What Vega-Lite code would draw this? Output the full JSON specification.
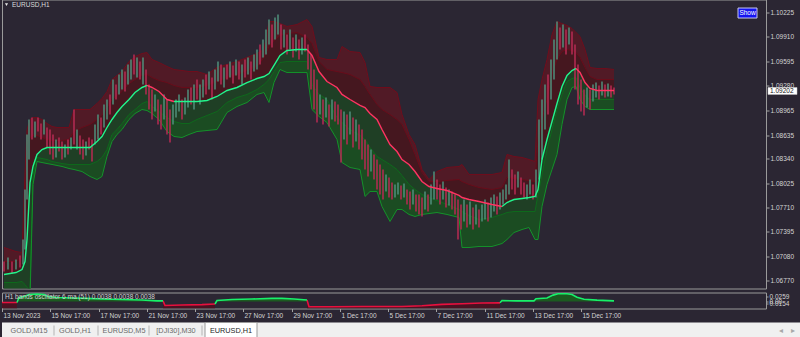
{
"$schema":"https://vega.github.io/schema/vega-lite/v6.json",
"background":"#2b2633",
"padding":{"left":0,"top":-1.5,"right":0,"bottom":0},
"spacing":2,
"config":{"view":{"stroke":"#9a9a9a","strokeWidth":1},"axis":{"labelFont":"Liberation Sans","labelFontSize":6.5,"labelColor":"#d4d4d4","tickColor":"#a0a0a0","domain":false,"grid":false,"labelOverlap":false,"labelFlush":false},"text":{"font":"Liberation Sans"}},
"datasets":{
"bands":[
{"b":2,"m":1.06846,"ui":1.07013,"uo":1.07194,"li":1.06742,"lo":1.06575,"d":"u","s":1},
{"b":8,"m":1.06858,"ui":1.07013,"uo":1.07168,"li":1.06742,"lo":1.06575,"d":"u","s":1},
{"b":14,"m":1.06871,"ui":1.07013,"uo":1.07142,"li":1.06742,"lo":1.06575,"d":"u","s":1},
{"b":20,"m":1.06910,"ui":1.07065,"uo":1.07129,"li":1.06755,"lo":1.06575,"d":"u","s":1},
{"b":23,"m":1.07013,"ui":1.07813,"uo":1.08161,"li":1.06717,"lo":1.06549,"d":"u","s":1},
{"b":25,"m":1.07297,"ui":1.08523,"uo":1.08716,"li":1.06678,"lo":1.06523,"d":"u","s":1},
{"b":28,"m":1.08032,"ui":1.08613,"uo":1.08845,"li":1.06652,"lo":1.06523,"d":"u","s":1},
{"b":31,"m":1.08239,"ui":1.08639,"uo":1.08871,"li":1.08136,"lo":1.08007,"d":"u","s":1},
{"b":35,"m":1.08394,"ui":1.08639,"uo":1.08871,"li":1.08355,"lo":1.08303,"d":"u","s":1},
{"b":40,"m":1.08458,"ui":1.08613,"uo":1.08845,"li":1.08342,"lo":1.08290,"d":"u","s":1},
{"b":45,"m":1.08484,"ui":1.08587,"uo":1.08793,"li":1.08329,"lo":1.08277,"d":"u","s":1},
{"b":50,"m":1.08484,"ui":1.08574,"uo":1.08755,"li":1.08303,"lo":1.08265,"d":"u","s":1},
{"b":55,"m":1.08484,"ui":1.08574,"uo":1.08742,"li":1.08290,"lo":1.08252,"d":"u","s":1},
{"b":60,"m":1.08484,"ui":1.08574,"uo":1.08742,"li":1.08277,"lo":1.08239,"d":"u","s":1},
{"b":67,"m":1.08484,"ui":1.08587,"uo":1.08742,"li":1.08265,"lo":1.08213,"d":"u","s":1},
{"b":72,"m":1.08484,"ui":1.08690,"uo":1.08974,"li":1.08265,"lo":1.08200,"d":"u","s":1},
{"b":80,"m":1.08484,"ui":1.08742,"uo":1.08974,"li":1.08265,"lo":1.08174,"d":"u","s":1},
{"b":88,"m":1.08484,"ui":1.08781,"uo":1.08974,"li":1.08265,"lo":1.08110,"d":"u","s":1},
{"b":95,"m":1.08561,"ui":1.08845,"uo":1.09051,"li":1.08303,"lo":1.08071,"d":"u","s":1},
{"b":100,"m":1.08626,"ui":1.08897,"uo":1.09116,"li":1.08355,"lo":1.08110,"d":"u","s":1},
{"b":105,"m":1.08742,"ui":1.09000,"uo":1.09206,"li":1.08458,"lo":1.08368,"d":"u","s":1},
{"b":110,"m":1.08845,"ui":1.09103,"uo":1.09361,"li":1.08652,"lo":1.08561,"d":"u","s":1},
{"b":115,"m":1.08935,"ui":1.09155,"uo":1.09413,"li":1.08716,"lo":1.08652,"d":"u","s":1},
{"b":120,"m":1.09013,"ui":1.09206,"uo":1.09464,"li":1.08793,"lo":1.08716,"d":"u","s":1},
{"b":127,"m":1.09103,"ui":1.09309,"uo":1.09593,"li":1.08910,"lo":1.08845,"d":"u","s":1},
{"b":133,"m":1.09193,"ui":1.09361,"uo":1.09658,"li":1.08974,"lo":1.08922,"d":"u","s":1},
{"b":140,"m":1.09258,"ui":1.09413,"uo":1.09696,"li":1.09051,"lo":1.08974,"d":"u","s":1},
{"b":145,"m":1.09284,"ui":1.09426,"uo":1.09709,"li":1.09077,"lo":1.08961,"d":"u","s":1},
{"b":145,"m":1.09284,"ui":1.09426,"uo":1.09709,"li":1.09077,"lo":1.08961,"d":"d","s":2},
{"b":150,"m":1.09258,"ui":1.09387,"uo":1.09619,"li":1.09013,"lo":1.08922,"d":"d","s":2},
{"b":157,"m":1.09206,"ui":1.09348,"uo":1.09580,"li":1.08948,"lo":1.08845,"d":"d","s":2},
{"b":165,"m":1.09103,"ui":1.09322,"uo":1.09529,"li":1.08871,"lo":1.08690,"d":"d","s":2},
{"b":172,"m":1.09077,"ui":1.09284,"uo":1.09490,"li":1.08819,"lo":1.08626,"d":"d","s":2},
{"b":172,"m":1.09077,"ui":1.09284,"uo":1.09490,"li":1.08819,"lo":1.08626,"d":"u","s":3},
{"b":180,"m":1.09077,"ui":1.09258,"uo":1.09477,"li":1.08793,"lo":1.08613,"d":"u","s":3},
{"b":187,"m":1.09077,"ui":1.09258,"uo":1.09464,"li":1.08793,"lo":1.08652,"d":"u","s":3},
{"b":195,"m":1.09077,"ui":1.09258,"uo":1.09464,"li":1.08845,"lo":1.08690,"d":"u","s":3},
{"b":205,"m":1.09090,"ui":1.09284,"uo":1.09426,"li":1.08897,"lo":1.08703,"d":"u","s":3},
{"b":215,"m":1.09142,"ui":1.09335,"uo":1.09516,"li":1.08948,"lo":1.08716,"d":"u","s":3},
{"b":225,"m":1.09219,"ui":1.09387,"uo":1.09554,"li":1.09064,"lo":1.08935,"d":"u","s":3},
{"b":235,"m":1.09258,"ui":1.09426,"uo":1.09593,"li":1.09129,"lo":1.09013,"d":"u","s":3},
{"b":245,"m":1.09322,"ui":1.09477,"uo":1.09645,"li":1.09168,"lo":1.09064,"d":"u","s":3},
{"b":255,"m":1.09374,"ui":1.09529,"uo":1.09696,"li":1.09232,"lo":1.09168,"d":"u","s":3},
{"b":262,"m":1.09400,"ui":1.09645,"uo":1.09748,"li":1.09297,"lo":1.09193,"d":"u","s":3},
{"b":267,"m":1.09438,"ui":1.09787,"uo":1.10109,"li":1.09361,"lo":1.09064,"d":"u","s":3},
{"b":272,"m":1.09542,"ui":1.09864,"uo":1.10109,"li":1.09464,"lo":1.09322,"d":"u","s":3},
{"b":278,"m":1.09671,"ui":1.09929,"uo":1.10083,"li":1.09580,"lo":1.09490,"d":"u","s":3},
{"b":285,"m":1.09735,"ui":1.09954,"uo":1.10045,"li":1.09593,"lo":1.09451,"d":"u","s":3},
{"b":295,"m":1.09748,"ui":1.09967,"uo":1.10070,"li":1.09593,"lo":1.09451,"d":"u","s":3},
{"b":305,"m":1.09748,"ui":1.09903,"uo":1.10135,"li":1.09593,"lo":1.09451,"d":"u","s":3},
{"b":305,"m":1.09748,"ui":1.09903,"uo":1.10135,"li":1.09593,"lo":1.09451,"d":"d","s":4},
{"b":310,"m":1.09671,"ui":1.09825,"uo":1.10045,"li":1.09297,"lo":1.08974,"d":"d","s":4},
{"b":317,"m":1.09464,"ui":1.09593,"uo":1.09645,"li":1.09168,"lo":1.08884,"d":"d","s":4},
{"b":325,"m":1.09335,"ui":1.09490,"uo":1.09619,"li":1.09103,"lo":1.08806,"d":"d","s":4},
{"b":335,"m":1.09258,"ui":1.09464,"uo":1.09619,"li":1.08871,"lo":1.08587,"d":"d","s":4},
{"b":340,"m":1.09168,"ui":1.09451,"uo":1.09787,"li":1.08806,"lo":1.08290,"d":"d","s":4},
{"b":348,"m":1.09103,"ui":1.09426,"uo":1.09722,"li":1.08716,"lo":1.08226,"d":"d","s":4},
{"b":358,"m":1.09026,"ui":1.09361,"uo":1.09709,"li":1.08639,"lo":1.08200,"d":"d","s":4},
{"b":363,"m":1.09000,"ui":1.09271,"uo":1.09580,"li":1.08587,"lo":1.07852,"d":"d","s":4},
{"b":368,"m":1.08922,"ui":1.09168,"uo":1.09271,"li":1.08484,"lo":1.07916,"d":"d","s":4},
{"b":375,"m":1.08845,"ui":1.09039,"uo":1.09258,"li":1.08368,"lo":1.07916,"d":"d","s":4},
{"b":380,"m":1.08716,"ui":1.08974,"uo":1.09258,"li":1.08329,"lo":1.07723,"d":"d","s":4},
{"b":388,"m":1.08523,"ui":1.08910,"uo":1.09258,"li":1.08265,"lo":1.07529,"d":"d","s":4},
{"b":395,"m":1.08432,"ui":1.08845,"uo":1.09193,"li":1.08200,"lo":1.07684,"d":"d","s":4},
{"b":400,"m":1.08329,"ui":1.08781,"uo":1.08910,"li":1.08123,"lo":1.07684,"d":"d","s":4},
{"b":407,"m":1.08265,"ui":1.08587,"uo":1.08652,"li":1.08007,"lo":1.07620,"d":"d","s":4},
{"b":413,"m":1.08174,"ui":1.08394,"uo":1.08523,"li":1.07942,"lo":1.07594,"d":"d","s":4},
{"b":420,"m":1.08045,"ui":1.08161,"uo":1.08200,"li":1.07878,"lo":1.07620,"d":"d","s":4},
{"b":427,"m":1.07981,"ui":1.08045,"uo":1.08071,"li":1.07839,"lo":1.07632,"d":"d","s":4},
{"b":435,"m":1.07955,"ui":1.08045,"uo":1.08174,"li":1.07800,"lo":1.07645,"d":"d","s":4},
{"b":445,"m":1.07929,"ui":1.08058,"uo":1.08226,"li":1.07749,"lo":1.07620,"d":"d","s":4},
{"b":457,"m":1.07865,"ui":1.08071,"uo":1.08239,"li":1.07684,"lo":1.07581,"d":"d","s":4},
{"b":460,"m":1.07839,"ui":1.08045,"uo":1.08265,"li":1.07658,"lo":1.07194,"d":"d","s":4},
{"b":467,"m":1.07813,"ui":1.08007,"uo":1.08136,"li":1.07607,"lo":1.07194,"d":"d","s":4},
{"b":477,"m":1.07787,"ui":1.07968,"uo":1.08136,"li":1.07555,"lo":1.07207,"d":"d","s":4},
{"b":490,"m":1.07749,"ui":1.07942,"uo":1.08136,"li":1.07581,"lo":1.07207,"d":"d","s":4},
{"b":500,"m":1.07723,"ui":1.07968,"uo":1.08161,"li":1.07620,"lo":1.07245,"d":"d","s":4},
{"b":500,"m":1.07723,"ui":1.07968,"uo":1.08161,"li":1.07620,"lo":1.07245,"d":"u","s":5},
{"b":505,"m":1.07774,"ui":1.08097,"uo":1.08394,"li":1.07645,"lo":1.07297,"d":"u","s":5},
{"b":512,"m":1.07813,"ui":1.08084,"uo":1.08368,"li":1.07658,"lo":1.07387,"d":"u","s":5},
{"b":520,"m":1.07826,"ui":1.08071,"uo":1.08355,"li":1.07658,"lo":1.07426,"d":"u","s":5},
{"b":527,"m":1.07839,"ui":1.08058,"uo":1.08329,"li":1.07658,"lo":1.07452,"d":"u","s":5},
{"b":533,"m":1.07852,"ui":1.08045,"uo":1.08303,"li":1.07658,"lo":1.07297,"d":"u","s":5},
{"b":536,"m":1.07942,"ui":1.08587,"uo":1.09103,"li":1.07878,"lo":1.07297,"d":"u","s":5},
{"b":540,"m":1.08329,"ui":1.08845,"uo":1.09361,"li":1.08136,"lo":1.07723,"d":"u","s":5},
{"b":545,"m":1.08587,"ui":1.09103,"uo":1.09619,"li":1.08458,"lo":1.08007,"d":"u","s":5},
{"b":550,"m":1.08819,"ui":1.09426,"uo":1.09941,"li":1.08716,"lo":1.08200,"d":"u","s":5},
{"b":555,"m":1.09051,"ui":1.09619,"uo":1.10109,"li":1.08974,"lo":1.08394,"d":"u","s":5},
{"b":560,"m":1.09271,"ui":1.09722,"uo":1.10083,"li":1.09168,"lo":1.08781,"d":"u","s":5},
{"b":565,"m":1.09413,"ui":1.09748,"uo":1.10058,"li":1.09335,"lo":1.09103,"d":"u","s":5},
{"b":570,"m":1.09477,"ui":1.09735,"uo":1.10019,"li":1.09374,"lo":1.09258,"d":"u","s":5},
{"b":574,"m":1.09503,"ui":1.09709,"uo":1.09967,"li":1.09387,"lo":1.09271,"d":"u","s":5},
{"b":574,"m":1.09503,"ui":1.09709,"uo":1.09967,"li":1.09387,"lo":1.09271,"d":"d","s":6},
{"b":578,"m":1.09451,"ui":1.09645,"uo":1.09916,"li":1.09258,"lo":1.09103,"d":"d","s":6},
{"b":583,"m":1.09322,"ui":1.09516,"uo":1.09748,"li":1.09155,"lo":1.09013,"d":"d","s":6},
{"b":588,"m":1.09245,"ui":1.09400,"uo":1.09516,"li":1.09103,"lo":1.08974,"d":"d","s":6},
{"b":595,"m":1.09219,"ui":1.09361,"uo":1.09503,"li":1.09103,"lo":1.08974,"d":"d","s":6},
{"b":603,"m":1.09219,"ui":1.09361,"uo":1.09503,"li":1.09103,"lo":1.08974,"d":"d","s":6},
{"b":612,"m":1.09219,"ui":1.09361,"uo":1.09490,"li":1.09103,"lo":1.08974,"d":"d","s":6}
],
"candles":[
{"b":2,"h":1.07013,"l":1.06884,"d":"d"},{"b":6,"h":1.07065,"l":1.06910,"d":"u"},{"b":10,"h":1.07013,"l":1.06858,"d":"d"},{"b":14,"h":1.07039,"l":1.06910,"d":"u"},{"b":18,"h":1.07091,"l":1.06936,"d":"d"},{"b":21,"h":1.07297,"l":1.06975,"d":"u"},{"b":23,"h":1.07942,"l":1.07168,"d":"u"},{"b":25,"h":1.08652,"l":1.07813,"d":"u"},{"b":27,"h":1.08845,"l":1.08329,"d":"u"},{"b":30,"h":1.08871,"l":1.08587,"d":"d"},
{"b":33,"h":1.08819,"l":1.08613,"d":"u"},{"b":36,"h":1.08871,"l":1.08690,"d":"d"},{"b":39,"h":1.08793,"l":1.08587,"d":"d"},{"b":42,"h":1.08845,"l":1.08652,"d":"u"},{"b":45,"h":1.08742,"l":1.08484,"d":"d"},{"b":48,"h":1.08716,"l":1.08394,"d":"d"},{"b":51,"h":1.08652,"l":1.08329,"d":"d"},{"b":54,"h":1.08587,"l":1.08355,"d":"u"},{"b":57,"h":1.08613,"l":1.08432,"d":"d"},{"b":60,"h":1.08561,"l":1.08329,"d":"d"},
{"b":63,"h":1.08523,"l":1.08355,"d":"u"},{"b":66,"h":1.08587,"l":1.08394,"d":"d"},{"b":69,"h":1.08613,"l":1.08458,"d":"u"},{"b":72,"h":1.08974,"l":1.08523,"d":"d"},{"b":75,"h":1.08716,"l":1.08458,"d":"u"},{"b":78,"h":1.08639,"l":1.08394,"d":"d"},{"b":81,"h":1.08587,"l":1.08329,"d":"d"},{"b":84,"h":1.08561,"l":1.08381,"d":"u"},{"b":87,"h":1.08613,"l":1.08458,"d":"d"},{"b":90,"h":1.08587,"l":1.08303,"d":"d"},
{"b":93,"h":1.08781,"l":1.08523,"d":"u"},{"b":96,"h":1.08910,"l":1.08587,"d":"u"},{"b":99,"h":1.08871,"l":1.08652,"d":"d"},{"b":102,"h":1.09039,"l":1.08742,"d":"u"},{"b":105,"h":1.09103,"l":1.08845,"d":"u"},{"b":108,"h":1.09168,"l":1.08910,"d":"d"},{"b":111,"h":1.09361,"l":1.09039,"d":"u"},{"b":114,"h":1.09297,"l":1.09103,"d":"d"},{"b":117,"h":1.09426,"l":1.09168,"d":"u"},{"b":120,"h":1.09490,"l":1.09232,"d":"u"},
{"b":123,"h":1.09464,"l":1.09206,"d":"d"},{"b":126,"h":1.09554,"l":1.09297,"d":"u"},{"b":129,"h":1.09619,"l":1.09361,"d":"u"},{"b":132,"h":1.09683,"l":1.09426,"d":"d"},{"b":135,"h":1.09645,"l":1.09387,"d":"u"},{"b":138,"h":1.09593,"l":1.09361,"d":"d"},{"b":141,"h":1.09645,"l":1.09297,"d":"u"},{"b":144,"h":1.09490,"l":1.09168,"d":"d"},{"b":147,"h":1.09297,"l":1.08974,"d":"d"},{"b":150,"h":1.09232,"l":1.08845,"d":"d"},
{"b":153,"h":1.09168,"l":1.08948,"d":"u"},{"b":156,"h":1.09103,"l":1.08781,"d":"d"},{"b":159,"h":1.09039,"l":1.08716,"d":"d"},{"b":162,"h":1.09168,"l":1.08845,"d":"u"},{"b":165,"h":1.09103,"l":1.08652,"d":"d"},{"b":168,"h":1.08974,"l":1.08548,"d":"d"},{"b":171,"h":1.09039,"l":1.08781,"d":"u"},{"b":174,"h":1.09103,"l":1.08871,"d":"u"},{"b":177,"h":1.09168,"l":1.08948,"d":"u"},{"b":180,"h":1.09103,"l":1.08845,"d":"d"},
{"b":183,"h":1.09129,"l":1.08910,"d":"u"},{"b":186,"h":1.09232,"l":1.09000,"d":"u"},{"b":189,"h":1.09258,"l":1.09039,"d":"d"},{"b":192,"h":1.09297,"l":1.08974,"d":"u"},{"b":195,"h":1.09361,"l":1.09103,"d":"d"},{"b":198,"h":1.09297,"l":1.09039,"d":"u"},{"b":201,"h":1.09361,"l":1.09129,"d":"u"},{"b":204,"h":1.09426,"l":1.09168,"d":"d"},{"b":207,"h":1.09464,"l":1.09232,"d":"u"},{"b":210,"h":1.09387,"l":1.09103,"d":"d"},
{"b":213,"h":1.09490,"l":1.09232,"d":"u"},{"b":216,"h":1.09593,"l":1.09335,"d":"u"},{"b":219,"h":1.09554,"l":1.09297,"d":"d"},{"b":222,"h":1.09516,"l":1.09258,"d":"u"},{"b":225,"h":1.09554,"l":1.09361,"d":"d"},{"b":228,"h":1.09593,"l":1.09387,"d":"u"},{"b":231,"h":1.09542,"l":1.09309,"d":"d"},{"b":234,"h":1.09619,"l":1.09413,"d":"u"},{"b":237,"h":1.09593,"l":1.09361,"d":"d"},{"b":240,"h":1.09554,"l":1.09297,"d":"u"},
{"b":243,"h":1.09619,"l":1.09387,"d":"d"},{"b":246,"h":1.09645,"l":1.09426,"d":"u"},{"b":249,"h":1.09593,"l":1.09361,"d":"d"},{"b":252,"h":1.09683,"l":1.09464,"d":"u"},{"b":255,"h":1.09748,"l":1.09490,"d":"u"},{"b":258,"h":1.09812,"l":1.09554,"d":"d"},{"b":261,"h":1.09877,"l":1.09645,"d":"u"},{"b":264,"h":1.10006,"l":1.09683,"d":"u"},{"b":267,"h":1.10135,"l":1.09812,"d":"u"},{"b":270,"h":1.10070,"l":1.09774,"d":"d"},
{"b":273,"h":1.10161,"l":1.09877,"d":"u"},{"b":276,"h":1.10200,"l":1.09941,"d":"u"},{"b":279,"h":1.10070,"l":1.09748,"d":"d"},{"b":282,"h":1.10006,"l":1.09774,"d":"u"},{"b":285,"h":1.09941,"l":1.09683,"d":"d"},{"b":288,"h":1.10006,"l":1.09748,"d":"u"},{"b":291,"h":1.09903,"l":1.09645,"d":"d"},{"b":294,"h":1.09941,"l":1.09722,"d":"u"},{"b":297,"h":1.09877,"l":1.09619,"d":"d"},{"b":300,"h":1.09903,"l":1.09683,"d":"u"},
{"b":303,"h":1.09941,"l":1.09722,"d":"d"},{"b":306,"h":1.09812,"l":1.09490,"d":"d"},{"b":309,"h":1.09683,"l":1.09232,"d":"d"},{"b":312,"h":1.09490,"l":1.08974,"d":"d"},{"b":315,"h":1.09361,"l":1.08806,"d":"d"},{"b":318,"h":1.09168,"l":1.08910,"d":"u"},{"b":321,"h":1.09103,"l":1.08781,"d":"d"},{"b":324,"h":1.09129,"l":1.08871,"d":"u"},{"b":327,"h":1.09039,"l":1.08755,"d":"d"},{"b":330,"h":1.09103,"l":1.08845,"d":"u"},
{"b":333,"h":1.09077,"l":1.08819,"d":"d"},{"b":336,"h":1.09039,"l":1.08781,"d":"d"},{"b":339,"h":1.08974,"l":1.08290,"d":"d"},{"b":342,"h":1.08948,"l":1.08587,"d":"u"},{"b":345,"h":1.08910,"l":1.08523,"d":"d"},{"b":348,"h":1.08948,"l":1.08652,"d":"u"},{"b":351,"h":1.08871,"l":1.08484,"d":"d"},{"b":354,"h":1.08845,"l":1.08561,"d":"u"},{"b":357,"h":1.08781,"l":1.08458,"d":"d"},{"b":360,"h":1.08716,"l":1.08329,"d":"d"},
{"b":363,"h":1.08587,"l":1.08200,"d":"d"},{"b":366,"h":1.08523,"l":1.08110,"d":"d"},{"b":369,"h":1.08458,"l":1.08174,"d":"u"},{"b":372,"h":1.08394,"l":1.08071,"d":"d"},{"b":375,"h":1.08329,"l":1.07942,"d":"d"},{"b":378,"h":1.08265,"l":1.07878,"d":"d"},{"b":381,"h":1.08200,"l":1.07813,"d":"d"},{"b":384,"h":1.08136,"l":1.07916,"d":"u"},{"b":387,"h":1.08097,"l":1.07839,"d":"d"},{"b":390,"h":1.08032,"l":1.07813,"d":"d"},
{"b":393,"h":1.08007,"l":1.07839,"d":"u"},{"b":396,"h":1.08032,"l":1.07878,"d":"u"},{"b":399,"h":1.07994,"l":1.07813,"d":"d"},{"b":402,"h":1.08019,"l":1.07839,"d":"u"},{"b":405,"h":1.07942,"l":1.07749,"d":"d"},{"b":408,"h":1.07916,"l":1.07684,"d":"d"},{"b":411,"h":1.07942,"l":1.07749,"d":"u"},{"b":414,"h":1.07878,"l":1.07658,"d":"d"},{"b":417,"h":1.07878,"l":1.07620,"d":"d"},{"b":420,"h":1.07839,"l":1.07594,"d":"d"},
{"b":423,"h":1.07916,"l":1.07684,"d":"u"},{"b":426,"h":1.07878,"l":1.07658,"d":"d"},{"b":429,"h":1.08007,"l":1.07749,"d":"u"},{"b":432,"h":1.08174,"l":1.07813,"d":"u"},{"b":435,"h":1.08071,"l":1.07813,"d":"d"},{"b":438,"h":1.08007,"l":1.07749,"d":"d"},{"b":441,"h":1.08045,"l":1.07813,"d":"u"},{"b":444,"h":1.07968,"l":1.07710,"d":"d"},{"b":447,"h":1.07942,"l":1.07736,"d":"u"},{"b":450,"h":1.07916,"l":1.07684,"d":"d"},
{"b":453,"h":1.07878,"l":1.07620,"d":"d"},{"b":456,"h":1.07813,"l":1.07297,"d":"d"},{"b":459,"h":1.07749,"l":1.07426,"d":"d"},{"b":462,"h":1.07813,"l":1.07529,"d":"u"},{"b":465,"h":1.07749,"l":1.07452,"d":"d"},{"b":468,"h":1.07787,"l":1.07491,"d":"u"},{"b":471,"h":1.07710,"l":1.07426,"d":"d"},{"b":474,"h":1.07749,"l":1.07491,"d":"u"},{"b":477,"h":1.07684,"l":1.07452,"d":"d"},{"b":480,"h":1.07749,"l":1.07529,"d":"u"},
{"b":483,"h":1.07813,"l":1.07555,"d":"u"},{"b":486,"h":1.07774,"l":1.07529,"d":"d"},{"b":489,"h":1.07839,"l":1.07581,"d":"u"},{"b":492,"h":1.07878,"l":1.07658,"d":"u"},{"b":495,"h":1.07852,"l":1.07620,"d":"d"},{"b":498,"h":1.07903,"l":1.07684,"d":"u"},{"b":501,"h":1.07942,"l":1.07749,"d":"u"},{"b":504,"h":1.08007,"l":1.07813,"d":"u"},{"b":507,"h":1.08329,"l":1.07878,"d":"u"},{"b":510,"h":1.08200,"l":1.07942,"d":"d"},
{"b":513,"h":1.08136,"l":1.07878,"d":"d"},{"b":516,"h":1.08174,"l":1.07968,"d":"u"},{"b":519,"h":1.08097,"l":1.07878,"d":"d"},{"b":522,"h":1.08032,"l":1.07839,"d":"d"},{"b":525,"h":1.08007,"l":1.07813,"d":"u"},{"b":528,"h":1.08071,"l":1.07878,"d":"u"},{"b":531,"h":1.08007,"l":1.07813,"d":"d"},{"b":534,"h":1.08200,"l":1.07839,"d":"u"},{"b":537,"h":1.08845,"l":1.08071,"d":"u"},{"b":540,"h":1.09103,"l":1.08329,"d":"u"},
{"b":543,"h":1.09297,"l":1.08716,"d":"u"},{"b":546,"h":1.09426,"l":1.08910,"d":"d"},{"b":549,"h":1.09619,"l":1.09103,"d":"u"},{"b":552,"h":1.09877,"l":1.09361,"d":"u"},{"b":555,"h":1.10109,"l":1.09619,"d":"u"},{"b":558,"h":1.10032,"l":1.09748,"d":"d"},{"b":561,"h":1.10070,"l":1.09774,"d":"u"},{"b":564,"h":1.10006,"l":1.09683,"d":"d"},{"b":567,"h":1.10032,"l":1.09812,"d":"u"},{"b":570,"h":1.09980,"l":1.09683,"d":"d"},
{"b":573,"h":1.09812,"l":1.09232,"d":"d"},{"b":576,"h":1.09554,"l":1.09039,"d":"d"},{"b":579,"h":1.09361,"l":1.08948,"d":"d"},{"b":582,"h":1.09232,"l":1.08897,"d":"d"},{"b":585,"h":1.09258,"l":1.09000,"d":"u"},{"b":588,"h":1.09232,"l":1.08974,"d":"d"},{"b":591,"h":1.09297,"l":1.09077,"d":"u"},{"b":594,"h":1.09322,"l":1.09129,"d":"u"},{"b":597,"h":1.09284,"l":1.09103,"d":"d"},{"b":600,"h":1.09335,"l":1.09155,"d":"u"},
{"b":603,"h":1.09297,"l":1.09129,"d":"d"},{"b":606,"h":1.09309,"l":1.09142,"d":"u"},{"b":609,"h":1.09284,"l":1.09129,"d":"d"},{"b":612,"h":1.09258,"l":1.09168,"d":"d"}
],
"osc":[
{"b":0,"v":-0.005,"d":"d","s":1},{"b":8,"v":-0.005,"d":"d","s":1},{"b":15,"v":-0.005,"d":"d","s":1},
{"b":15,"v":-0.005,"d":"u","s":2},{"b":17,"v":0.021,"d":"u","s":2},{"b":22,"v":0.026,"d":"u","s":2},{"b":27,"v":0.036,"d":"u","s":2},{"b":35,"v":0.039,"d":"u","s":2},{"b":42,"v":0.036,"d":"u","s":2},{"b":46,"v":0.026,"d":"u","s":2},{"b":55,"v":0.021,"d":"u","s":2},{"b":70,"v":0.018,"d":"u","s":2},{"b":85,"v":0.016,"d":"u","s":2},{"b":100,"v":0.013,"d":"u","s":2},{"b":120,"v":0.010,"d":"u","s":2},{"b":140,"v":0.008,"d":"u","s":2},{"b":155,"v":0.003,"d":"u","s":2},{"b":161,"v":0.003,"d":"u","s":2},
{"b":161,"v":0.003,"d":"d","s":3},{"b":163,"v":-0.021,"d":"d","s":3},{"b":180,"v":-0.018,"d":"d","s":3},{"b":200,"v":-0.016,"d":"d","s":3},{"b":213,"v":-0.013,"d":"d","s":3},
{"b":213,"v":-0.013,"d":"u","s":4},{"b":215,"v":0.005,"d":"u","s":4},{"b":230,"v":0.010,"d":"u","s":4},{"b":250,"v":0.013,"d":"u","s":4},{"b":270,"v":0.016,"d":"u","s":4},{"b":280,"v":0.016,"d":"u","s":4},{"b":292,"v":0.013,"d":"u","s":4},{"b":305,"v":0.008,"d":"u","s":4},
{"b":305,"v":0.008,"d":"d","s":5},{"b":307,"v":-0.027,"d":"d","s":5},{"b":330,"v":-0.027,"d":"d","s":5},{"b":360,"v":-0.026,"d":"d","s":5},{"b":400,"v":-0.026,"d":"d","s":5},{"b":420,"v":-0.022,"d":"d","s":5},{"b":440,"v":-0.015,"d":"d","s":5},{"b":460,"v":-0.012,"d":"d","s":5},{"b":480,"v":-0.008,"d":"d","s":5},{"b":498,"v":-0.007,"d":"d","s":5},
{"b":498,"v":-0.007,"d":"u","s":6},{"b":500,"v":0.005,"d":"u","s":6},{"b":515,"v":0.003,"d":"u","s":6},{"b":532,"v":0.003,"d":"u","s":6},{"b":534,"v":0.014,"d":"u","s":6},{"b":545,"v":0.018,"d":"u","s":6},{"b":551,"v":0.033,"d":"u","s":6},{"b":556,"v":0.040,"d":"u","s":6},{"b":565,"v":0.040,"d":"u","s":6},{"b":570,"v":0.036,"d":"u","s":6},{"b":575,"v":0.022,"d":"u","s":6},{"b":582,"v":0.012,"d":"u","s":6},{"b":595,"v":0.007,"d":"u","s":6},{"b":612,"v":0.003,"d":"u","s":6}
],
"tabs":[
{"x":27,"t":"GOLD,M15","a":0},{"x":73,"t":"GOLD,H1","a":0},{"x":122,"t":"EURUSD,M5","a":0},{"x":174,"t":"[DJI30],M30","a":0},{"x":229,"t":"EURUSD,H1","a":1}
]
},
"vconcat":[
{
"width":764,"height":289,
"encoding":{
"x":{"type":"quantitative","scale":{"domain":[0,764],"nice":false,"zero":false},"axis":null},
"y":{"type":"quantitative","scale":{"domain":[1.06665,1.10393],"nice":false,"zero":false},"axis":{"orient":"right","title":null,"values":[1.0677,1.0708,1.07395,1.0771,1.08025,1.0834,1.08635,1.08965,1.0928,1.09595,1.0991,1.10225],"format":".5f","tickSize":3,"labelPadding":1}}
},
"layer":[
{"data":{"name":"bands"},"mark":{"type":"area","color":"#511a26","clip":true},"encoding":{"x":{"field":"b"},"y":{"field":"uo"},"y2":{"field":"ui"}}},
{"data":{"name":"bands"},"mark":{"type":"area","color":"#45171f","clip":true},"encoding":{"x":{"field":"b"},"y":{"field":"ui"},"y2":{"field":"m"}}},
{"data":{"name":"bands"},"mark":{"type":"area","color":"#1f3f25","clip":true},"encoding":{"x":{"field":"b"},"y":{"field":"m"},"y2":{"field":"li"}}},
{"data":{"name":"bands"},"mark":{"type":"area","color":"#1b4c22","clip":true},"encoding":{"x":{"field":"b"},"y":{"field":"li"},"y2":{"field":"lo"}}},
{"data":{"name":"bands"},"mark":{"type":"line","color":"#700d1c","strokeWidth":1,"clip":true},"encoding":{"x":{"field":"b"},"y":{"field":"uo"}}},
{"data":{"name":"bands"},"mark":{"type":"line","color":"#6a0c1a","strokeWidth":1,"clip":true},"encoding":{"x":{"field":"b"},"y":{"field":"ui"}}},
{"data":{"name":"bands"},"mark":{"type":"line","color":"#0e6a1c","strokeWidth":1,"clip":true},"encoding":{"x":{"field":"b"},"y":{"field":"li"}}},
{"data":{"name":"bands"},"mark":{"type":"line","color":"#14922a","strokeWidth":1,"clip":true},"encoding":{"x":{"field":"b"},"y":{"field":"lo"}}},
{"data":{"name":"candles"},"transform":[{"filter":"datum.d == 'u'"}],"mark":{"type":"rule","color":"#4f8d7a","strokeWidth":1.8,"opacity":0.85},"encoding":{"x":{"field":"b"},"y":{"field":"h"},"y2":{"field":"l"}}},
{"data":{"name":"candles"},"transform":[{"filter":"datum.d == 'd'"}],"mark":{"type":"rule","color":"#b52a52","strokeWidth":1.8,"opacity":0.85},"encoding":{"x":{"field":"b"},"y":{"field":"h"},"y2":{"field":"l"}}},
{"data":{"name":"bands"},"transform":[{"filter":"datum.d == 'u'"}],"mark":{"type":"line","color":"#22f58c","strokeWidth":1.4},"encoding":{"x":{"field":"b"},"y":{"field":"m"},"detail":{"field":"s"}}},
{"data":{"name":"bands"},"transform":[{"filter":"datum.d == 'd'"}],"mark":{"type":"line","color":"#ff3462","strokeWidth":1.4},"encoding":{"x":{"field":"b"},"y":{"field":"m"},"detail":{"field":"s"}}},
{"data":{"values":[{"b":4.5,"p":1.10328}]},"mark":{"type":"point","shape":"triangle-down","filled":true,"size":10,"color":"#e8e8e8","opacity":1},"encoding":{"x":{"field":"b"},"y":{"field":"p"}}},
{"data":{"values":[{"b":10,"p":1.10328,"t":"EURUSD,H1"}]},"mark":{"type":"text","align":"left","baseline":"middle","fontSize":6.5,"color":"#dcdcdc"},"encoding":{"x":{"field":"b"},"y":{"field":"p"},"text":{"field":"t"}}},
{"data":{"values":[{"b":736,"b2":755,"p":1.10283,"p2":1.10154}]},"mark":{"type":"rect","fill":"#1414f0","stroke":"#c8c8f0","strokeWidth":1},"encoding":{"x":{"field":"b"},"x2":{"field":"b2"},"y":{"field":"p"},"y2":{"field":"p2"}}},
{"data":{"values":[{"b":745.5,"p":1.10219,"t":"Show"}]},"mark":{"type":"text","align":"center","baseline":"middle","fontSize":6.5,"color":"#ffffff"},"encoding":{"x":{"field":"b"},"y":{"field":"p"},"text":{"field":"t"}}},
{"data":{"values":[{"b":766,"b2":795,"p":1.09258,"p2":1.09168}]},"mark":{"type":"rect","fill":"#ffffff","stroke":"#c8c8c8","strokeWidth":0.5},"encoding":{"x":{"field":"b"},"x2":{"field":"b2"},"y":{"field":"p"},"y2":{"field":"p2"}}},
{"data":{"values":[{"b":768,"p":1.09213,"t":"1.09202"}]},"mark":{"type":"text","align":"left","baseline":"middle","fontSize":6.5,"color":"#101010"},"encoding":{"x":{"field":"b"},"y":{"field":"p"},"text":{"field":"t"}}}
]
},
{
"width":764,"height":16,
"encoding":{
"x":{"type":"quantitative","scale":{"domain":[0,764],"nice":false,"zero":false},"axis":{"orient":"bottom","title":null,"values":[0,48,97,145,193,241,290,338,386,434,483,531,579],"labelExpr":"['13 Nov 2023','15 Nov 17:00','17 Nov 17:00','21 Nov 17:00','23 Nov 17:00','27 Nov 17:00','29 Nov 17:00','1 Dec 17:00','5 Dec 17:00','7 Dec 17:00','11 Dec 17:00','13 Dec 17:00','15 Dec 17:00'][round(datum.value/48.25)]","labelAlign":"left","labelBaseline":"top","labelOffset":1,"tickSize":3,"labelPadding":1}},
"y":{"type":"quantitative","scale":{"domain":[-0.0363,0.0466],"nice":false,"zero":false},"axis":{"orient":"right","title":null,"values":[0.0259,0,-0.0104],"labelExpr":"datum.value > 0.02 ? '0.0259' : (datum.value < -0.005 ? '0.0154' : '0.00')","tickSize":2,"labelPadding":1}}
},
"layer":[
{"data":{"name":"osc"},"transform":[{"filter":"datum.d == 'd'"}],"mark":{"type":"area","color":"#4a1222","clip":true},"encoding":{"x":{"field":"b"},"y":{"field":"v"},"y2":{"datum":-0.0363},"detail":{"field":"s"}}},
{"data":{"name":"osc"},"transform":[{"filter":"datum.d == 'u'"}],"mark":{"type":"area","color":"#1c5a20","clip":true},"encoding":{"x":{"field":"b"},"y":{"field":"v"},"y2":{"datum":0},"detail":{"field":"s"}}},
{"data":{"name":"osc"},"transform":[{"filter":"datum.d == 'd'"}],"mark":{"type":"line","color":"#e8103e","strokeWidth":1.6,"clip":true},"encoding":{"x":{"field":"b"},"y":{"field":"v"},"detail":{"field":"s"}}},
{"data":{"name":"osc"},"transform":[{"filter":"datum.d == 'u'"}],"mark":{"type":"line","color":"#18f06a","strokeWidth":1.6,"clip":true},"encoding":{"x":{"field":"b"},"y":{"field":"v"},"detail":{"field":"s"}}},
{"data":{"values":[{"b":3,"v":0.0207,"t":"H1 bands oscillator 6 ma (51)  0.0038 0.0038 0.0038"}]},"mark":{"type":"text","align":"left","baseline":"middle","fontSize":6.5,"color":"#d0d0d0"},"encoding":{"x":{"field":"b"},"y":{"field":"v"},"text":{"field":"t"}}}
]
},
{
"width":800,"height":16,
"view":{"fill":"#f0f0f0","stroke":null},
"encoding":{
"x":{"type":"quantitative","scale":{"domain":[0,800],"nice":false,"zero":false},"axis":null},
"y":{"type":"quantitative","scale":{"domain":[0,16],"nice":false,"zero":false},"axis":null}
},
"layer":[
{"data":{"values":[{"x":203,"x2":255,"y":0.5,"y2":16}]},"mark":{"type":"rect","fill":"#ffffff","stroke":"#9a9a9a","strokeWidth":1},"encoding":{"x":{"field":"x"},"x2":{"field":"x2"},"y":{"field":"y"},"y2":{"field":"y2"}}},
{"data":{"values":[{"x":52,"y":3,"y2":13},{"x":96,"y":3,"y2":13},{"x":147,"y":3,"y2":13},{"x":200,"y":3,"y2":13}]},"mark":{"type":"rule","color":"#b4b4b4","strokeWidth":1},"encoding":{"x":{"field":"x"},"y":{"field":"y"},"y2":{"field":"y2"}}},
{"data":{"name":"tabs"},"transform":[{"filter":"datum.a == 0"}],"mark":{"type":"text","align":"center","baseline":"middle","fontSize":7.3,"color":"#6a6a6a"},"encoding":{"x":{"field":"x"},"y":{"datum":8},"text":{"field":"t"}}},
{"data":{"name":"tabs"},"transform":[{"filter":"datum.a == 1"}],"mark":{"type":"text","align":"center","baseline":"middle","fontSize":7.3,"color":"#1e1e1e"},"encoding":{"x":{"field":"x"},"y":{"datum":8},"text":{"field":"t"}}},
{"data":{"values":[{"x":779,"t":"◂"},{"x":791,"t":"▸"}]},"mark":{"type":"text","align":"center","baseline":"middle","fontSize":8,"color":"#a8a8a8"},"encoding":{"x":{"field":"x"},"y":{"datum":8},"text":{"field":"t"}}}
]
}
]
}
